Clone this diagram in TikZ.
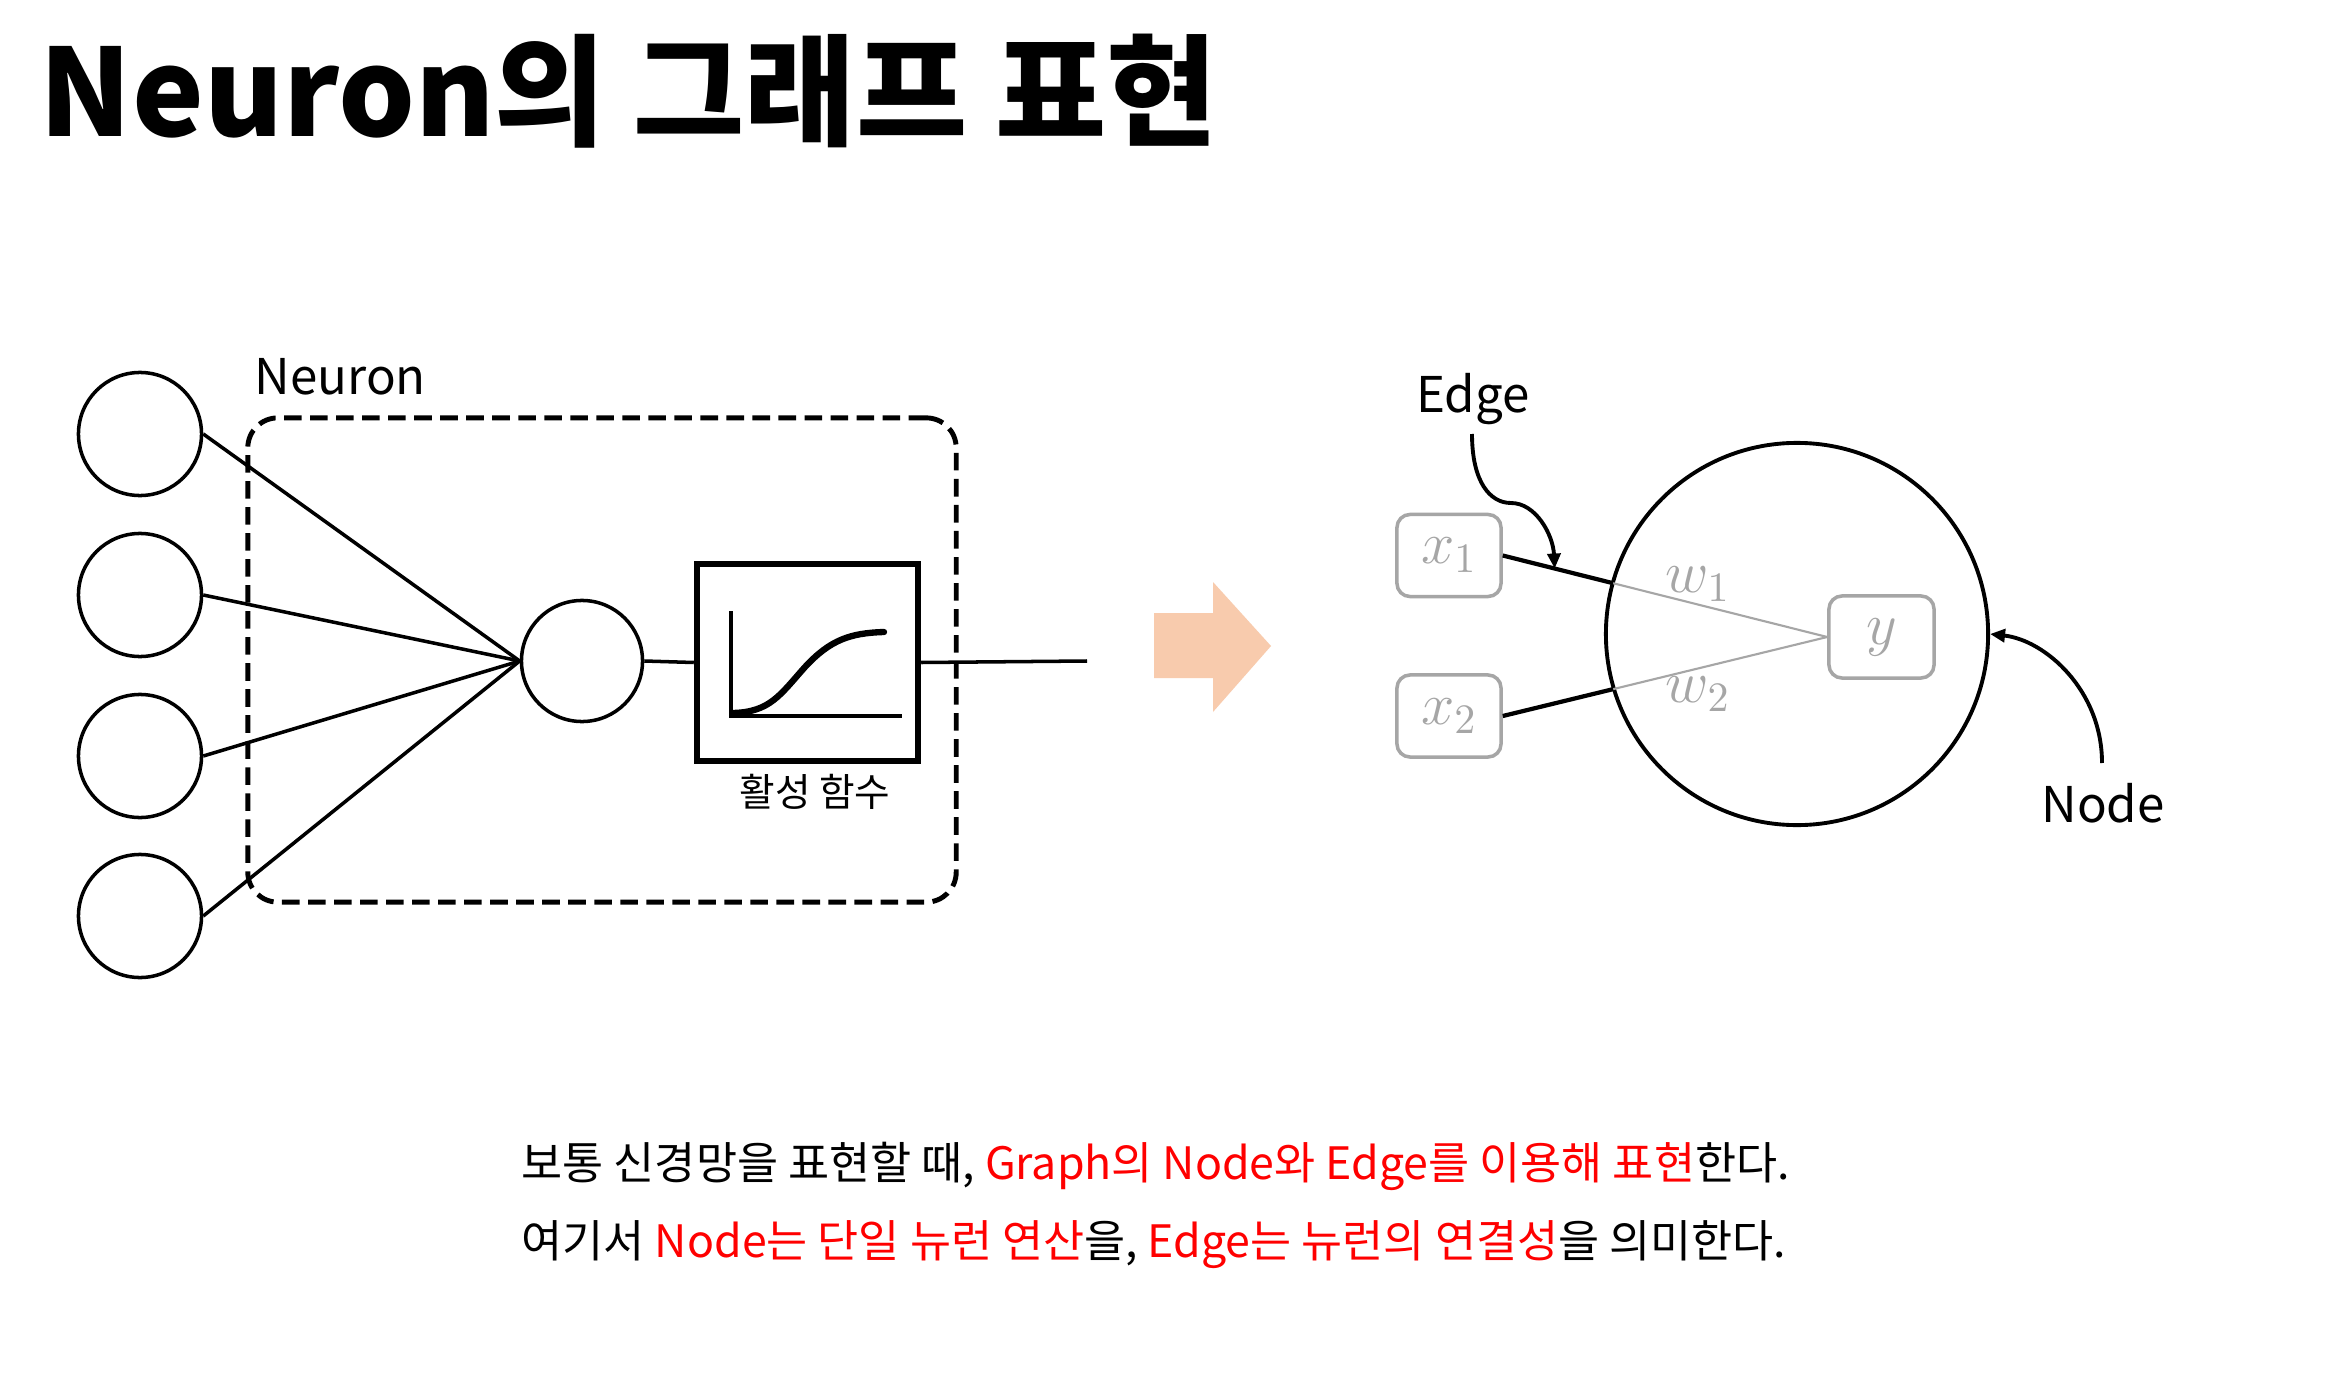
\RequirePackage{fix-cm}
\documentclass[tikz,border=0pt]{standalone}
\usepackage{fontspec}
\setmainfont{Noto Sans CJK KR}
\usetikzlibrary{arrows.meta,calc}
\definecolor{peach}{HTML}{F8CBAD}
\definecolor{lgray}{HTML}{A6A6A6}
\definecolor{hred}{HTML}{FF0000}
\begin{document}
\begin{tikzpicture}[x=0.01cm,y=-0.01cm,
  inp/.style={circle,draw,line width=1pt,minimum size=1.23cm,inner sep=0pt},
  wire/.style={line width=1pt},
  gbox/.style={draw=lgray,line width=1pt,rounded corners=0.13cm,minimum width=1.04cm,minimum height=0.82cm,inner sep=0pt,text=lgray,font=\fontsize{17}{19}\selectfont},
  lbl/.style={inner sep=0pt,font=\fontsize{14}{17}\selectfont},
  wlbl/.style={inner sep=0pt,text=lgray,font=\fontsize{17}{19}\selectfont},
  callout/.style={line width=1.1pt,-{Triangle[length=0.15cm,width=0.13cm]}},
  body/.style={inner sep=0pt,anchor=base west,font=\fontsize{12.7}{15}\selectfont}]
\useasboundingbox (0,0) rectangle (2345,1385);
\fill[white] (0,0) rectangle (2345,1385);

% title
\node[anchor=base west,inner sep=0pt,font=\bfseries\fontsize{34.4}{40}\selectfont] (title) at (39,137) {Neuron의 그래프 표현};

% left: neuron
\node[draw,dashed,line width=1.4pt,dash pattern=on 5pt off 2.4pt,rounded corners=0.3cm,minimum width=7.08cm,minimum height=4.84cm,inner sep=0pt] (nbox) at (602,660) {};
\node[lbl,anchor=base west] (nlbl) at (254,394) {Neuron};

\node[inp] (i1) at (140,434) {};
\node[inp] (i2) at (140,595) {};
\node[inp] (i3) at (140,756) {};
\node[inp] (i4) at (140,916) {};
\node[inp,minimum size=1.21cm] (mid) at (582,661) {};
\node[draw,line width=1.8pt,minimum width=2.21cm,minimum height=1.97cm,inner sep=0pt] (act) at (807.5,662.5) {};
\node[inner sep=0pt,anchor=base,font=\fontsize{11}{13}\selectfont] (actlbl) at (815,806) {활성 함수};
\coordinate (out) at (1087,661);

\foreach \i in {1,...,4} \draw[wire] (i\i.east) -- (mid.west);
\draw[wire] (mid.east) -- (act.west);
\draw[wire] (act.east) -- (out);

% sigmoid plot
\draw[line width=1pt] (731,611) -- (731,716) -- (902,716);
\draw[line width=1.8pt,line cap=round] (733,713) .. controls (770,712) and (780,695) .. (805,667) .. controls (830,640) and (850,633) .. (884,632);

% peach arrow
\fill[peach] (1154,613) -- (1213,613) -- (1213,582) -- (1271,646) -- (1213,712) -- (1213,678) -- (1154,678) -- cycle;

% right: graph
\node[circle,draw,line width=1.1pt,minimum size=3.82cm,inner sep=0pt] (bigc) at (1797,634) {};
\node[gbox] (x1) at (1449,555.5) {$x_1$};
\node[gbox] (x2) at (1449,716) {$x_2$};
\node[gbox,minimum width=1.05cm] (y) at (1881.5,637) {$y$};

\draw[lgray,line width=0.6pt] (x1.east) -- (y.west);
\draw[lgray,line width=0.6pt] (x2.east) -- (y.west);
\draw[line width=1.2pt] (x1.east) -- ($(x1.east)!0.34!(y.west)$);
\draw[line width=1.2pt] (x2.east) -- ($(x2.east)!0.34!(y.west)$);

\node[wlbl] (w1) at (1698,584) {$w_1$};
\node[wlbl] (w2) at (1698,694) {$w_2$};

\node[lbl,anchor=base] (elbl) at (1473,412) {Edge};
\node[lbl,anchor=base] (ndlbl) at (2103,822) {Node};
\coordinate (estart) at (1472,434);
\coordinate (etip) at ($(x1.east)!0.16!(y.west)$);
\coordinate (nstart) at (2102,763);

\draw[callout] (estart) .. controls (1472,482) and (1490,503) .. (1511,503) .. controls (1536,503) and (1553,535) .. (etip);
\draw[callout] (nstart) .. controls (2102,690) and (2045,640) .. (bigc.east);

% bottom text
\node[body] (t1) at (521,1179) {보통 신경망을 표현할 때, \textcolor{hred}{Graph의 Node와 Edge를 이용해 표현}한다.};
\node[body] (t2) at (521,1257) {여기서 \textcolor{hred}{Node는 단일 뉴런 연산}을, \textcolor{hred}{Edge는 뉴런의 연결성}을 의미한다.};
\end{tikzpicture}
\end{document}
